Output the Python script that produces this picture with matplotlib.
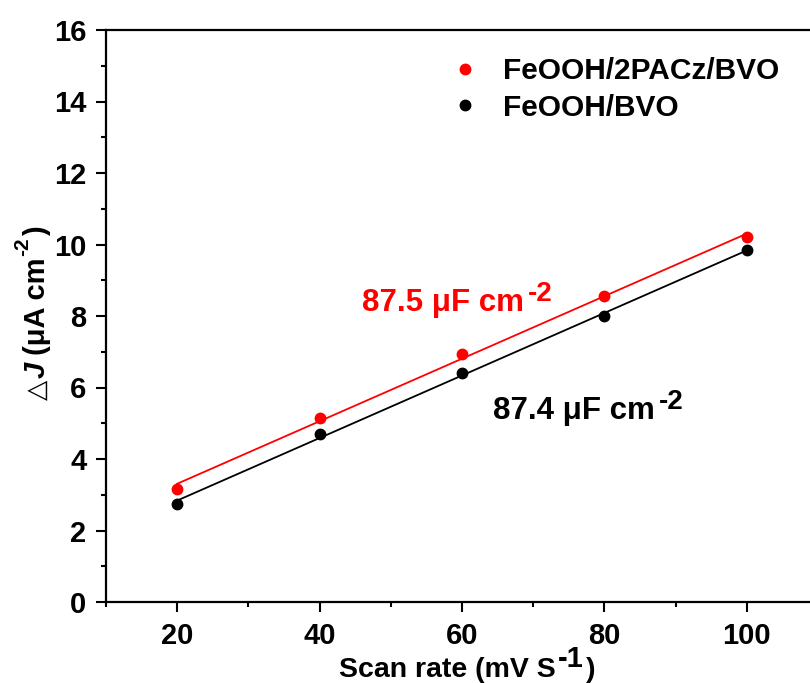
import numpy as np
import matplotlib
matplotlib.use("Agg")
import matplotlib.pyplot as plt
from matplotlib.ticker import MultipleLocator
from matplotlib.transforms import IdentityTransform

plt.rcParams['font.family'] = ['Liberation Sans', 'DejaVu Sans']
plt.rcParams['font.weight'] = 'bold'

scan_rate = [20, 40, 60, 80, 100]
dj_pacz = [3.17, 5.16, 6.93, 8.55, 10.22]
dj_bvo = [2.75, 4.69, 6.40, 8.00, 9.84]
label_pacz = 'FeOOH/2PACz/BVO'
label_bvo = 'FeOOH/BVO'
cap_pacz = '87.5 μF cm'
cap_bvo = '87.4 μF cm'
cap_exp = '-2'

W, H = 810, 683
fig = plt.figure(figsize=(W / 100, H / 100), dpi=100)
ax = fig.add_axes([106/W, 1-602/H, (818-106)/W, (602-30)/H])

x = np.array(scan_rate, dtype=float)
for y, c, lab in [(dj_pacz, 'red', label_pacz), (dj_bvo, 'black', label_bvo)]:
    y = np.array(y)
    p = np.polyfit(x, y, 1)
    ax.plot(x, np.polyval(p, x), color=c, lw=1.3, zorder=2)
    ax.plot(x, y, 'o', color=c, ms=7.5, label=lab, zorder=3)

ax.set_xlim(10, 110)
ax.set_ylim(0, 16)
ax.xaxis.set_major_locator(MultipleLocator(20))
ax.xaxis.set_minor_locator(MultipleLocator(10))
ax.yaxis.set_major_locator(MultipleLocator(2))
ax.yaxis.set_minor_locator(MultipleLocator(1))
ax.tick_params(which='major', direction='out', length=7.2, width=1.5, labelsize=21, pad=7)
ax.tick_params(which='minor', direction='out', length=3.8, width=1.5)
ax.tick_params(top=False, right=False)
for s in ax.spines.values():
    s.set_linewidth(1.6)
for lbl in ax.get_xticklabels() + ax.get_yticklabels():
    lbl.set_fontweight('bold')

leg = ax.legend(loc='upper left', bbox_to_anchor=(0.446, 0.999), frameon=False,
                prop={'size': 21.5, 'weight': 'bold'}, handletextpad=0.75,
                labelspacing=0.27, handlelength=1.0)

renderer = fig.canvas.get_renderer()


def rich(parts, x0, y0, rotation=0, center=False, color='black'):
    """parts: list of (text, fontsize, rise_px, gap_px, extra props)."""
    widths = []
    for txt, fs, rise, gap, props in parts:
        kw = dict(fontsize=fs, fontweight='bold')
        kw.update(props)
        t = fig.text(0, 0, txt, transform=IdentityTransform(), **kw)
        widths.append(t.get_window_extent(renderer).width)
        t.remove()
    total = sum(widths) + sum(p[3] for p in parts)
    pos = -total / 2 if center else 0.0
    for (txt, fs, rise, gap, props), w in zip(parts, widths):
        pos += gap
        if rotation == 0:
            xx, yy = x0 + pos, y0 + rise
        else:
            xx, yy = x0 - rise, y0 + pos
        kw = dict(fontsize=fs, fontweight='bold', color=color)
        kw.update(props)
        fig.text(xx, yy, txt, transform=IdentityTransform(), rotation=rotation,
                 rotation_mode='anchor', ha='left', va='baseline', **kw)
        pos += w


# annotations (anchored at data positions)
ax_pix = ax.transData.transform
px, py = ax_pix((46.0, 8.13))
rich([(cap_pacz, 22.5, 0, 0, {}), (cap_exp, 20, 10, 4, {})], px, py, color='red')
px, py = ax_pix((64.4, 5.12))
rich([(cap_bvo, 22.5, 0, 0, {}), (cap_exp, 20, 10, 4, {})], px, py, color='black')

# x label
rich([('Scan rate (mV S', 20.5, 0, 0, {}), ('-1', 21, 10, 2, {}), (')', 20.5, 0, 2, {})],
     467, H - 677, center=True)

# y label
rich([('△', 19, 0, 0, {'family': 'DejaVu Sans', 'fontweight': 'normal'}),
      ('J', 21, 0, 2, {'fontstyle': 'italic'}),
      ('(μA cm', 21, 0, 7, {}),
      ('-2', 15, 17, 1, {}),
      (')', 21, 0, 2, {})],
     45, H - 313, rotation=90, center=True)

fig.savefig('out.png', dpi=100)
